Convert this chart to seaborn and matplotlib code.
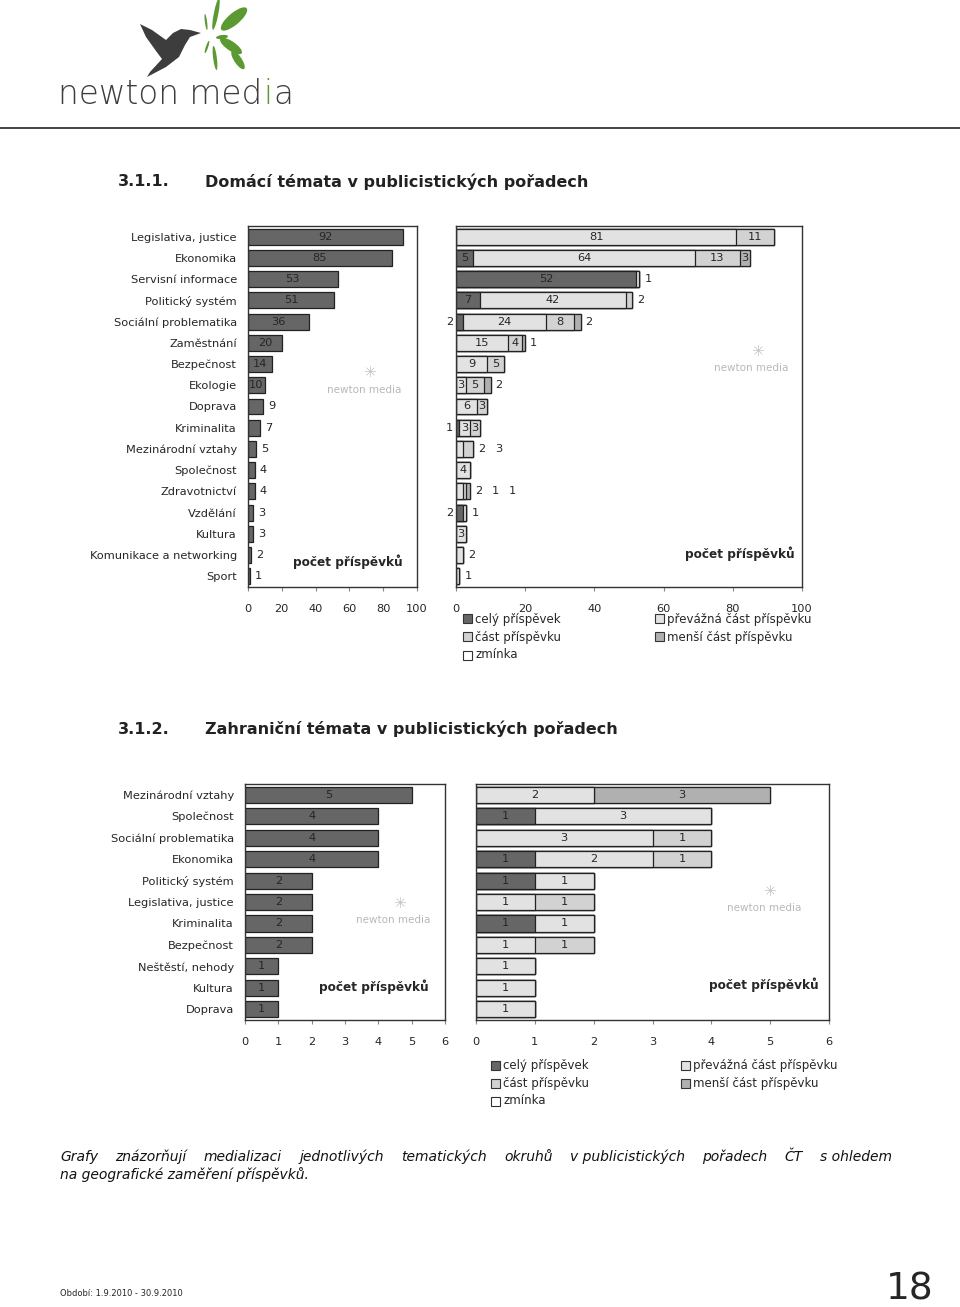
import numpy as np
import pandas as pd
import matplotlib
matplotlib.use('Agg')
import matplotlib.pyplot as plt
import matplotlib.patches as mpatches
import seaborn as sns

# --- data: 3.1.1 domaci temata ---
dom_topics = ['Legislativa, justice', 'Ekonomika', 'Servisní informace', 'Politický systém',
              'Sociální problematika', 'Zaměstnání', 'Bezpečnost', 'Ekologie', 'Doprava',
              'Kriminalita', 'Mezinárodní vztahy', 'Společnost', 'Zdravotnictví', 'Vzdělání',
              'Kultura', 'Komunikace a networking', 'Sport']
dom_total = [92, 85, 53, 51, 36, 20, 14, 10, 9, 7, 5, 4, 4, 3, 3, 2, 1]
dom_cely = [0, 5, 52, 7, 2, 0, 0, 0, 0, 1, 0, 0, 0, 2, 0, 0, 0]
dom_prevazna = [81, 64, 1, 42, 24, 15, 9, 3, 6, 3, 2, 4, 2, 1, 3, 2, 1]
dom_cast = [11, 13, 0, 2, 8, 4, 5, 5, 3, 3, 3, 0, 1, 0, 0, 0, 0]
dom_mensi = [0, 3, 0, 0, 2, 1, 0, 2, 0, 0, 0, 0, 1, 0, 0, 0, 0]
dom_zminka = [0, 0, 0, 0, 0, 0, 0, 0, 0, 0, 0, 0, 0, 0, 0, 0, 0]

# --- data: 3.1.2 zahranicni temata ---
zah_topics = ['Mezinárodní vztahy', 'Společnost', 'Sociální problematika', 'Ekonomika',
              'Politický systém', 'Legislativa, justice', 'Kriminalita', 'Bezpečnost',
              'Neštěstí, nehody', 'Kultura', 'Doprava']
zah_total = [5, 4, 4, 4, 2, 2, 2, 2, 1, 1, 1]
zah_cely = [0, 1, 0, 1, 1, 0, 1, 0, 0, 0, 0]
zah_prevazna = [2, 3, 3, 2, 1, 1, 1, 1, 1, 1, 1]
zah_cast = [0, 0, 1, 1, 0, 1, 0, 1, 0, 0, 0]
zah_mensi = [3, 0, 0, 0, 0, 0, 0, 0, 0, 0, 0]
zah_zminka = [0, 0, 0, 0, 0, 0, 0, 0, 0, 0, 0]

series_names = ['celý příspěvek', 'převážná část příspěvku', 'část příspěvku',
                'menší část příspěvku', 'zmínka']
series_colors = ['#666666', '#e2e2e2', '#d2d2d2', '#b0b0b0', '#ffffff']

W, H = 960, 1307
FS = 8.2

sns.set_theme(style='white')
plt.rcParams['font.family'] = ['DejaVu Sans']

fig = plt.figure(figsize=(W / 100, H / 100), dpi=100)


def px_axes(x0, x1, top, bottom):
    return fig.add_axes([x0 / W, 1 - bottom / H, (x1 - x0) / W, (bottom - top) / H])


def ftext(x, y, s, **kw):
    return fig.text(x / W, 1 - y / H, s, **kw)


def frame(ax, ticks, show_labels):
    ax.set_xlim(ticks[0], ticks[-1])
    ax.set_xticks(ticks)
    ax.set_xlabel('')
    ax.set_ylabel('')
    for s in ax.spines.values():
        s.set_color('#333333')
        s.set_linewidth(1.0)
    ax.tick_params(axis='x', bottom=True, length=3, width=0.8, color='#888888',
                   labelsize=FS, pad=9)
    ax.tick_params(axis='y', length=0, labelsize=FS, pad=8, labelleft=show_labels)


def total_chart(ax, topics, totals, ticks, inside_min, width_px):
    df = pd.DataFrame({'topic': topics, 'n': totals})
    sns.barplot(data=df, x='n', y='topic', order=topics, color=series_colors[0],
                saturation=1, edgecolor='#222222', linewidth=0.9, width=0.75, ax=ax)
    frame(ax, ticks, True)
    ppu = width_px / ticks[-1]
    for i, v in enumerate(totals):
        if v >= inside_min:
            ax.text(v / 2, i, str(v), ha='center', va='center', fontsize=FS)
        else:
            ax.text(v + 5 / ppu, i, str(v), ha='left', va='center', fontsize=FS)


def stacked_chart(ax, topics, series, ticks, inside_min, width_px):
    vals = np.array(series)
    cum = np.cumsum(vals, axis=0)
    df = pd.DataFrame({'topic': topics})
    for k in range(len(series) - 1, -1, -1):
        df['cum'] = cum[k]
        sns.barplot(data=df, x='cum', y='topic', order=topics, color=series_colors[k],
                    saturation=1, edgecolor='#222222', linewidth=0.9, width=0.75, ax=ax)
    frame(ax, ticks, False)
    ppu = width_px / ticks[-1]
    for i in range(len(topics)):
        left = 0
        outside = False
        n_out = 0
        total = cum[-1][i]
        for k in range(len(series)):
            v = vals[k][i]
            if v == 0:
                continue
            if k == 0 and v < inside_min:
                ax.text(-3 / ppu, i, str(v), ha='right', va='center', fontsize=FS)
            elif v >= inside_min and not outside:
                ax.text(left + v / 2, i, str(v), ha='center', va='center', fontsize=FS)
            else:
                outside = True
                ax.text(total + (5 + 17 * n_out) / ppu, i, str(v), ha='left',
                        va='center', fontsize=FS)
                n_out += 1
            left += v


def watermark(x, y):
    ftext(x, y, 'newton media', ha='center', va='center', fontsize=7.5, color='#b8b8b8')
    ftext(x + 6, y - 17, '✳', ha='center', va='center', fontsize=11, color='#c4c4c4')


def legend_block(x1, x2, y0):
    pos = [(x1, y0), (x2, y0), (x1, y0 + 18), (x2, y0 + 18), (x1, y0 + 36)]
    for (x, y), name, col in zip(pos, series_names, series_colors):
        fig.patches.append(mpatches.Rectangle(((x) / W, 1 - (y + 4.5) / H), 9 / W, 9 / H,
                                              transform=fig.transFigure, facecolor=col,
                                              edgecolor='#333333', linewidth=0.8))
        ftext(x + 12, y, name, ha='left', va='center', fontsize=FS + 0.3)


# --- header / logo ---
fig.add_artist(plt.Line2D([0, 1], [1 - 128 / H, 1 - 128 / H], color='#444444',
                          linewidth=1.4, transform=fig.transFigure))
bird = [(201, 33), (190, 30), (181, 29), (173, 33), (166, 40), (152, 30), (140, 24),
        (146, 37), (156, 51), (162, 59), (150, 72), (147, 77), (166, 67), (179, 57),
        (185, 45), (190, 37)]
fig.patches.append(mpatches.Polygon([(x / W, 1 - y / H) for x, y in bird], closed=True,
                                    transform=fig.transFigure, facecolor='#3d3d3d',
                                    edgecolor='none'))
petals = [(216, 14, 6, 24, 75), (234, 19, 13, 30, 30), (231, 46, 10, 24, -25),
          (238, 60, 9, 18, -45), (215, 58, 5, 18, -80), (206, 22, 3, 12, 100),
          (207, 47, 3, 10, -115), (222, 37, 4, 12, 5)]
for x, y, w, h, a in petals:
    fig.patches.append(mpatches.Ellipse((x / W, 1 - y / H), h / W, w / H, angle=a,
                                        transform=fig.transFigure, facecolor='#5b9a32',
                                        edgecolor='none'))
LOGO_FS = 23.5
logo1 = ftext(58, 104, 'newton med', ha='left', va='baseline', fontsize=LOGO_FS,
              color='#3d3d3d', fontweight='light')
r = fig.canvas.get_renderer()
bb = logo1.get_window_extent(renderer=r)
logo2 = fig.text(bb.x1 / W + 0.001, 1 - 104 / H, 'i', ha='left', va='baseline',
                 fontsize=LOGO_FS, color='#5b9a32', fontweight='light')
bb2 = logo2.get_window_extent(renderer=r)
fig.text(bb2.x1 / W + 0.001, 1 - 104 / H, 'a', ha='left', va='baseline', fontsize=LOGO_FS,
         color='#3d3d3d', fontweight='light')

# --- section 3.1.1 ---
ftext(118, 182, '3.1.1.', ha='left', va='center', fontsize=11.5, fontweight='bold',
      color='#222222')
ftext(205, 182, 'Domácí témata v publicistických pořadech', ha='left', va='center',
      fontsize=11.5, fontweight='bold', color='#222222')

ax1 = px_axes(248, 417, 226, 587)
total_chart(ax1, dom_topics, dom_total, [0, 20, 40, 60, 80, 100], 10, 169)
ax2 = px_axes(456, 802, 226, 587)
stacked_chart(ax2, dom_topics,
              [dom_cely, dom_prevazna, dom_cast, dom_mensi, dom_zminka],
              [0, 20, 40, 60, 80, 100], 3, 346)
watermark(364, 390)
watermark(751, 368)
ftext(348, 562, 'počet příspěvků', ha='center', va='center', fontsize=FS + 0.5,
      fontweight='bold')
ftext(740, 554, 'počet příspěvků', ha='center', va='center', fontsize=FS + 0.5,
      fontweight='bold')
legend_block(463, 655, 619)

# --- section 3.1.2 ---
ftext(118, 729, '3.1.2.', ha='left', va='center', fontsize=11.5, fontweight='bold',
      color='#222222')
ftext(205, 729, 'Zahraniční témata v publicistických pořadech', ha='left', va='center',
      fontsize=11.5, fontweight='bold', color='#222222')

ax3 = px_axes(245, 445, 784, 1020)
total_chart(ax3, zah_topics, zah_total, [0, 1, 2, 3, 4, 5, 6], 1, 200)
ax4 = px_axes(476, 829, 784, 1020)
stacked_chart(ax4, zah_topics,
              [zah_cely, zah_prevazna, zah_cast, zah_mensi, zah_zminka],
              [0, 1, 2, 3, 4, 5, 6], 1, 353)
watermark(393, 920)
watermark(764, 908)
ftext(374, 987, 'počet příspěvků', ha='center', va='center', fontsize=FS + 0.5,
      fontweight='bold')
ftext(764, 985, 'počet příspěvků', ha='center', va='center', fontsize=FS + 0.5,
      fontweight='bold')
legend_block(491, 681, 1065)

# --- caption, justified first line ---
words = ['Grafy', 'znázorňují', 'medializaci', 'jednotlivých', 'tematických', 'okruhů',
         'v publicistických', 'pořadech', 'ČT', 's ohledem']
arts = [ftext(60, 1157, w, ha='left', va='center', fontsize=10, style='italic',
              color='#111111') for w in words]
widths = [a.get_window_extent(renderer=r).width for a in arts]
gap = (892 - 60 - sum(widths)) / (len(words) - 1)
x = 60
for a, w in zip(arts, widths):
    a.set_x(x / W)
    x += w + gap
ftext(60, 1175, 'na geografické zaměření příspěvků.', ha='left', va='center', fontsize=10,
      style='italic', color='#111111')

# --- footer ---
ftext(60, 1294, 'Období: 1.9.2010 - 30.9.2010', ha='left', va='center', fontsize=6)
ftext(934, 1290, '18', ha='right', va='center', fontsize=27)

fig.savefig('out.png', dpi=100)
